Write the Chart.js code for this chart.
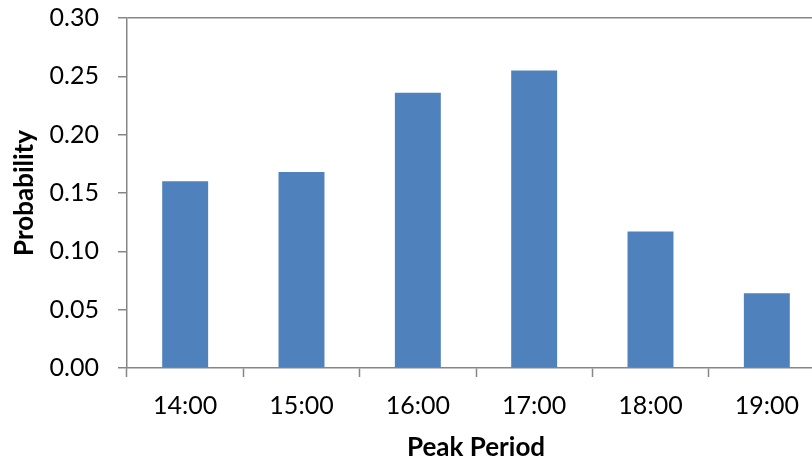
<!DOCTYPE html>
<html>
<head>
<meta charset="utf-8">
<script src="https://cdn.jsdelivr.net/npm/chart.js@4/dist/chart.umd.min.js"></script>
<style>
  html, body { margin: 0; padding: 0; background: #ffffff; overflow: hidden; }
  #wrap { width: 825px; height: 463px; }
</style>
</head>
<body>
<div id="wrap"><canvas id="c" width="825" height="463"></canvas></div>
<script>
// Probability of the peak falling in each hourly period
const periods = ['14:00', '15:00', '16:00', '17:00', '18:00', '19:00'];
const probability = [0.160, 0.168, 0.236, 0.255, 0.117, 0.064];
const yTicks = [0, 0.05, 0.10, 0.15, 0.20, 0.25, 0.30];

const axisGray = '#868686';
const barBlue = '#4F81BD';

new Chart(document.getElementById('c'), {
  type: 'bar',
  data: {
    labels: periods,
    datasets: [{
      data: probability,
      backgroundColor: barBlue,
      borderWidth: 0,
      barPercentage: 0.395,
      categoryPercentage: 1.0
    }]
  },
  options: {
    responsive: false,
    animation: false,
    layout: { padding: { top: 18, right: 0, bottom: 0, left: 0 } },
    plugins: { legend: { display: false }, tooltip: { enabled: false } },
    scales: {
      x: {
        offset: true,
        grid: {
          offset: true,
          drawOnChartArea: false,
          drawTicks: true,
          tickLength: 9,
          tickColor: axisGray,
          tickWidth: 1.5
        },
        border: { display: true, color: axisGray, width: 1.5 },
        ticks: {
          color: '#000000',
          padding: 14,
          maxRotation: 0,
          font: { family: 'Lato', size: 25 }
        },
        title: {
          display: true,
          text: 'Peak Period',
          color: '#000000',
          padding: { top: 0, bottom: 0 },
          font: { family: 'Lato', size: 26, weight: 'bold' }
        },
        afterFit: (scale) => {
          scale.height = 95;
          scale.paddingLeft = 0;
          scale.paddingRight = 0;
        }
      },
      y: {
        min: 0,
        max: 0.30,
        afterBuildTicks: (scale) => { scale.ticks = yTicks.map(v => ({ value: v })); },
        grid: {
          drawTicks: true,
          tickLength: 9,
          tickColor: axisGray,
          tickWidth: 1.5,
          lineWidth: 1.5,
          color: (ctx) => (ctx.tick && Math.abs(ctx.tick.value - 0.30) < 1e-9) ? axisGray : 'rgba(0,0,0,0)'
        },
        border: { display: true, color: axisGray, width: 1.5 },
        ticks: {
          color: '#000000',
          padding: 19,
          font: { family: 'Lato', size: 25 },
          callback: (v) => Number(v).toFixed(2)
        },
        title: {
          display: true,
          text: 'Probability',
          color: '#000000',
          padding: { top: 9, bottom: 0 },
          font: { family: 'Lato', size: 26, weight: 'bold' }
        },
        afterFit: (scale) => {
          scale.width = 127;
          scale.paddingTop = 0;
          scale.paddingBottom = 0;
        }
      }
    }
  }
});
</script>
</body>
</html>
